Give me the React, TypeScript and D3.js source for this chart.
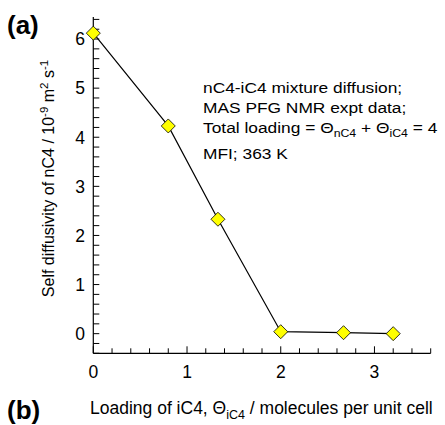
import React from "react";
import * as d3 from "d3";

const loadingIC4 = [0, 0.8, 1.33, 2.0, 2.67, 3.2];
const diffusivityNC4 = [6.12, 4.23, 2.33, 0.04, 0.02, 0.0];
const xMajorTicks = [0, 1, 2, 3];
const yMajorTicks = [0, 1, 2, 3, 4, 5, 6];

const W = 445;
const H = 425;
const FONT = "'Liberation Sans', Arial, sans-serif";

export default function App() {
  const x = d3.scaleLinear().domain([0, 3.6]).range([93.3, 430.7]);
  const y = d3.scaleLinear().domain([-0.4, 6.4]).range([353.3, 19.4]);

  const xMinor = d3.range(0, 3.6001, 0.2);
  const yMinor = d3.range(-0.4, 6.4001, 0.2);

  const line = d3
    .line<number>()
    .x((_, i) => x(loadingIC4[i]))
    .y((d) => y(d));

  const r = 7;
  const diamondPath = `M0,${-r}L${r},0L0,${r}L${-r},0Z`;

  const x0 = x(0);
  const yb = y(-0.4);

  return (
    <svg
      width={W}
      height={H}
      style={{ position: "absolute", left: 0, top: 0 }}
      fontFamily={FONT}
    >
      <rect width={W} height={H} fill="#fff" />
      {/* axes */}
      <line x1={x0} x2={x0} y1={17} y2={yb} stroke="#000" strokeWidth={1.2} />
      <line x1={x0} x2={x(3.6)} y1={yb} y2={yb} stroke="#000" strokeWidth={1.2} />
      {yMinor.map((v, i) => (
        <line key={"ym" + i} x1={x0} x2={x0 + 6} y1={y(v)} y2={y(v)} stroke="#000" strokeWidth={1} />
      ))}
      {xMinor.map((v, i) => {
        const major = Math.abs(v - Math.round(v)) < 1e-6;
        return (
          <line
            key={"xm" + i}
            x1={x(v)}
            x2={x(v)}
            y1={yb}
            y2={yb - (major ? 7 : 5)}
            stroke="#000"
            strokeWidth={1}
          />
        );
      })}
      {yMajorTicks.map((v) => (
        <text key={"yl" + v} x={85} y={y(v)} dy="0.36em" textAnchor="end" fontSize={17.5}>
          {v}
        </text>
      ))}
      {xMajorTicks.map((v) => (
        <text key={"xl" + v} x={x(v)} y={378} textAnchor="middle" fontSize={17.5}>
          {v}
        </text>
      ))}

      {/* data */}
      <path d={line(diffusivityNC4) ?? ""} fill="none" stroke="#000" strokeWidth={1.2} />
      {diffusivityNC4.map((d, i) => (
        <path
          key={"pt" + i}
          d={diamondPath}
          transform={`translate(${x(loadingIC4[i])},${y(d)})`}
          fill="#ffff00"
          stroke="#000"
          strokeWidth={0.8}
        />
      ))}

      {/* axis titles */}
      <text
        transform={`translate(54,178.5) rotate(-90)`}
        textAnchor="middle"
        fontSize={16}
      >
        Self diffusivity of nC4 / 10
        <tspan dy={-6.5} fontSize={11.5}>-9</tspan>
        <tspan dy={6.5}> m</tspan>
        <tspan dy={-6.5} fontSize={11.5}>2</tspan>
        <tspan dy={6.5}> s</tspan>
        <tspan dy={-6.5} fontSize={11.5}>-1</tspan>
      </text>
      <text x={90} y={414} fontSize={17.5}>
        Loading of iC4, Θ
        <tspan dy={4.5} fontSize={12.5}>iC4</tspan>
        <tspan dy={-4.5}> / molecules per unit cell</tspan>
      </text>

      {/* annotation */}
      <g fontSize={15.5} transform="translate(203,0) scale(1.12,1)">
        <text x={0} y={93}>nC4-iC4 mixture diffusion;</text>
        <text x={0} y={113}>MAS PFG NMR expt data;</text>
        <text x={0} y={133}>
          Total loading = Θ
          <tspan dy={4.5} fontSize={11}>nC4</tspan>
          <tspan dy={-4.5}> + Θ</tspan>
          <tspan dy={4.5} fontSize={11}>iC4</tspan>
          <tspan dy={-4.5}> = 4</tspan>
        </text>
        <text x={0} y={159.5}>MFI; 363 K</text>
      </g>

      {/* panel letters */}
      <text x={7} y={34} fontSize={26} fontWeight="bold">(a)</text>
      <text x={7} y={419} fontSize={26} fontWeight="bold">(b)</text>
    </svg>
  );
}
